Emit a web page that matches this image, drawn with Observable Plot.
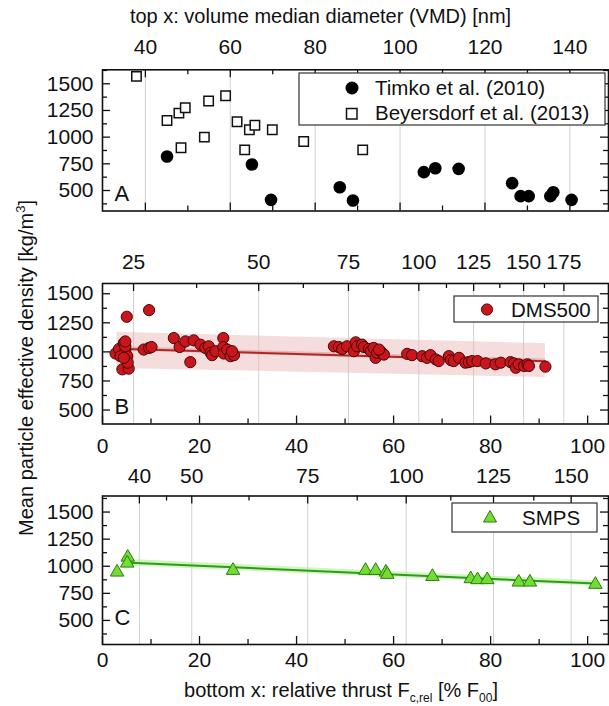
<!DOCTYPE html>
<html><head><meta charset="utf-8">
<script src="https://cdn.jsdelivr.net/npm/d3@7"></script>
<script src="https://cdn.jsdelivr.net/npm/@observablehq/plot@0.6"></script>
<style>
html,body{margin:0;padding:0;background:#fff;}
#fig{position:relative;width:609px;height:706px;overflow:hidden;background:#fff;font-family:"Liberation Sans",Arial,Helvetica,sans-serif;}
#fig svg{position:absolute;left:0;}
</style></head><body><div id="fig"></div>
<script>
// ---------- axis tick values ----------
const yMajor = [500, 750, 1000, 1250, 1500];
const yMinor = [375, 625, 875, 1125, 1375, 1625];
const thrustMajor = [0, 20, 40, 60, 80, 100];
const thrustMinor = [10, 30, 50, 70, 90];
const vmdMajorA = [40, 60, 80, 100, 120, 140];
const vmdMinorA = [50, 70, 90, 110, 130];
// top axis of panel B (VMD labels and the relative thrust where they sit)
const dmsVmdLabels = [25, 50, 75, 100, 125, 150, 175];
const dmsVmdAtThrust = [6.4, 32.2, 50.7, 65.2, 76.5, 86.8, 95.1];
const dmsVmdMinorAtThrust = [19.4, 41.4, 57.9, 70.9, 81.9, 91.1];
// top axis of panel C
const smpsVmdLabels = [40, 50, 75, 100, 125, 150];
const smpsVmdAtThrust = [7.6, 18.4, 42.3, 62.6, 80.6, 96.6];
const smpsVmdMinorAtThrust = [13.2, 30.2, 52.5, 71.8, 88.9];

// ---------- panel A data (x = VMD nm) ----------
const timkoVmd = [45.1, 65.1, 69.6, 85.8, 88.9, 105.6, 108.3, 113.8, 126.4, 128.4, 130.3, 135.4, 136.1, 140.4];
const timkoDensity = [819, 744, 412, 531, 406, 672, 709, 703, 569, 447, 447, 447, 484, 412];
const beyVmd = [37.9, 45.1, 47.9, 49.4, 48.4, 53.9, 54.9, 58.9, 61.6, 63.4, 64.5, 65.8, 69.9, 77.3, 91.2];
const beyDensity = [1569, 1156, 1225, 1275, 900, 1000, 1338, 1388, 1144, 881, 1069, 1112, 1069, 959, 881];

// ---------- panel B data (x = relative thrust %) ----------
const dmsThrust = [2.7, 3.4, 4.4, 4.7, 5.1, 4.1, 5.4, 4.7, 3.7, 5.2, 4.4, 5.0, 4.7, 9.6, 8.5, 9.6, 10.1,
  14.7, 15.9, 17.1, 18.1, 18.8, 20.2, 21.2, 21.9, 22.3, 22.6, 23.3, 24.9, 24.9, 25.0, 25.7, 26.4, 27.1, 26.7,
  47.7, 48.7, 49.4, 50.4, 51.8, 52.2, 52.5, 53.5, 53.9, 54.9, 55.3, 55.9, 56.3, 56.6, 57.3, 58.0, 57.0,
  62.8, 63.8, 65.9, 66.9, 67.6, 68.7, 69.3, 71.4, 71.8, 72.4, 73.5, 74.8, 75.5, 76.2, 77.3, 79.0, 81.0, 82.1,
  84.1, 84.8, 85.2, 85.8, 86.9, 87.6, 87.9, 91.3];
const dmsDensity = [986, 1025, 1076, 1006, 963, 850, 856, 1048, 963, 907, 949, 1302, 1090, 1359, 1020, 1034, 1042,
  1119, 1042, 1090, 912, 1099, 1062, 1034, 1048, 992, 972, 1006, 1119, 1042, 986, 1020, 963, 972, 1006,
  1048, 1042, 1025, 1048, 1006, 1082, 1048, 1062, 1042, 1025, 1006, 1034, 949, 992, 1006, 977, 1020,
  983, 972, 963, 949, 972, 935, 921, 963, 929, 921, 949, 907, 912, 921, 921, 901, 893, 907,
  912, 901, 864, 893, 879, 893, 879, 873];
// fit line and bands
const dmsFitThrust = [3.0, 91.3];
const dmsFit = [1028, 920];
const dmsConfLo = [1010, 902];
const dmsConfHi = [1046, 938];
const dmsPredLo = [858, 780];
const dmsPredHi = [1169, 1070];

// ---------- panel C data ----------
const smpsThrust = [3.0, 5.2, 5.1, 26.9, 54.2, 56.3, 58.4, 58.7, 68.0, 75.9, 77.3, 79.3, 85.8, 88.1, 101.6];
const smpsDensity = [945, 1083, 1028, 961, 961, 961, 945, 924, 905, 884, 875, 875, 853, 853, 832];
const smpsFitThrust = [4.5, 101.6];
const smpsFit = [1035, 840];
const smpsConfLo = [1005, 815];
const smpsConfHi = [1065, 865];

// ---------- drawing ----------
const fig = document.getElementById("fig");
const FONT = '"Liberation Sans", Arial, Helvetica, sans-serif';
const W = 609, ML = 102, MR = 1;
const INK = "#111";

function inDomain(vals, dom) {
  const a = Math.min(...dom), b = Math.max(...dom);
  return vals.filter(v => v >= a && v <= b);
}
function zip(xs, ys) { return xs.map((x, i) => ({x, y: ys[i]})); }

function panel(cfg) {
  const {top, height, marginTop, marginBottom, xDomain, yDomain} = cfg;
  const pw = W - ML - MR, ph = height - marginTop - marginBottom;
  const majY = inDomain(yMajor, yDomain), minY = inDomain(yMinor, yDomain);
  const tk = {stroke: INK, strokeWidth: 1.3};
  const txt = {fontSize: 21, fill: INK};
  const marks = [
    Plot.ruleX(cfg.grid, {x: d => d, stroke: "#d2d2d2", strokeWidth: 1}),
    ...cfg.dataMarks,
    Plot.tickY(majY, {y: d => d, insetRight: pw - 8, ...tk}),
    Plot.tickY(minY, {y: d => d, insetRight: pw - 5, ...tk}),
    Plot.tickY(majY, {y: d => d, insetLeft: pw - 8, ...tk}),
    Plot.tickY(minY, {y: d => d, insetLeft: pw - 5, ...tk}),
    Plot.tickX(cfg.topMajor, {x: d => d, insetBottom: ph - 8, ...tk}),
    Plot.tickX(cfg.topMinor, {x: d => d, insetBottom: ph - 5, ...tk}),
    Plot.tickX(cfg.bottomMajor, {x: d => d, insetTop: ph - 8, ...tk}),
    Plot.tickX(cfg.bottomMinor, {x: d => d, insetTop: ph - 5, ...tk}),
    Plot.frame({stroke: INK, strokeWidth: 1.6}),
    Plot.text(majY, {y: d => d, text: d => String(d), frameAnchor: "left", textAnchor: "end", dx: -9, lineAnchor: "middle", ...txt}),
    Plot.text(cfg.topLabels, {x: "x", text: "t", frameAnchor: "top", lineAnchor: "bottom", dy: cfg.topDy, ...txt}),
    Plot.text([cfg.letter], {text: d => d, y: cfg.letterY, frameAnchor: "left", textAnchor: "start", dx: 12, lineAnchor: "middle", fontSize: 22, fill: INK})
  ];
  if (cfg.bottomLabels) {
    marks.push(Plot.text(cfg.bottomLabels, {x: d => d, text: d => String(d), frameAnchor: "bottom", lineAnchor: "top", dy: cfg.bottomDy, ...txt}));
  }
  const svg = Plot.plot({
    width: W, height, marginLeft: ML, marginRight: MR, marginTop, marginBottom,
    x: {domain: xDomain, axis: null},
    y: {domain: yDomain, axis: null},
    style: {fontFamily: FONT, background: "transparent", overflow: "visible"},
    marks
  });
  svg.style.top = top + "px";
  fig.appendChild(svg);
}

// Panel A
panel({
  top: 25, height: 195, marginTop: 44.3, marginBottom: 9.5,
  xDomain: [29.9, 149.1], yDomain: [308, 1631],
  grid: vmdMajorA,
  topMajor: vmdMajorA, topMinor: vmdMinorA,
  bottomMajor: vmdMajorA, bottomMinor: vmdMinorA,
  topLabels: vmdMajorA.map(v => ({x: v, t: String(v)})), topDy: -16,
  letter: "A", letterY: 465,
  dataMarks: [
    Plot.dot(zip(beyVmd, beyDensity), {x: "x", y: "y", symbol: "square", r: 5.3, fill: "white", stroke: INK, strokeWidth: 1.5}),
    Plot.dot(zip(timkoVmd, timkoDensity), {x: "x", y: "y", symbol: "circle", r: 6.3, fill: "#000"})
  ]
});

// Panel B
const dmsFitRows = dmsFitThrust.map((t, i) => ({x: t, y: dmsFit[i], lo: dmsConfLo[i], hi: dmsConfHi[i], plo: dmsPredLo[i], phi: dmsPredHi[i]}));
panel({
  top: 240, height: 215, marginTop: 43, marginBottom: 31.5,
  xDomain: [0, 104.3], yDomain: [380, 1588],
  grid: dmsVmdAtThrust,
  topMajor: dmsVmdAtThrust, topMinor: dmsVmdMinorAtThrust,
  bottomMajor: thrustMajor, bottomMinor: thrustMinor,
  topLabels: dmsVmdLabels.map((v, i) => ({x: dmsVmdAtThrust[i], t: String(v)})), topDy: -14.7,
  bottomLabels: thrustMajor, bottomDy: 14,
  letter: "B", letterY: 525,
  dataMarks: [
    Plot.areaY(dmsFitRows, {x: "x", y1: "plo", y2: "phi", fill: "#e9b4b4", fillOpacity: 0.45}),
    Plot.areaY(dmsFitRows, {x: "x", y1: "lo", y2: "hi", fill: "#d98a8a", fillOpacity: 0.45}),
    Plot.line(dmsFitRows, {x: "x", y: "y", stroke: "#b02828", strokeWidth: 2}),
    Plot.dot(zip(dmsThrust, dmsDensity), {x: "x", y: "y", r: 5.6, fill: "#c8161c", stroke: "#4a0606", strokeWidth: 1})
  ]
});

// Panel C
const smpsFitRows = smpsFitThrust.map((t, i) => ({x: t, y: smpsFit[i], lo: smpsConfLo[i], hi: smpsConfHi[i]}));
panel({
  top: 455, height: 225, marginTop: 40.5, marginBottom: 36,
  xDomain: [0, 104.3], yDomain: [278, 1648],
  grid: smpsVmdAtThrust,
  topMajor: smpsVmdAtThrust, topMinor: smpsVmdMinorAtThrust,
  bottomMajor: thrustMajor, bottomMinor: thrustMinor,
  topLabels: smpsVmdLabels.map((v, i) => ({x: smpsVmdAtThrust[i], t: String(v)})), topDy: -13.5,
  bottomLabels: thrustMajor, bottomDy: 8,
  letter: "C", letterY: 525,
  dataMarks: [
    Plot.areaY(smpsFitRows, {x: "x", y1: "lo", y2: "hi", fill: "#a8ee86", fillOpacity: 0.55}),
    Plot.line(smpsFitRows, {x: "x", y: "y", stroke: "#2f9a1c", strokeWidth: 2}),
    Plot.dot(zip(smpsThrust, smpsDensity), {x: "x", y: "y", symbol: "triangle", r: 5, fill: "#72de33", stroke: "#2e7a10", strokeWidth: 1})
  ]
});

// overlay: titles and legends
const NS = "http://www.w3.org/2000/svg";
const ov = document.createElementNS(NS, "svg");
ov.setAttribute("width", W); ov.setAttribute("height", 706);
ov.style.top = "0px";
ov.style.fontFamily = FONT;
ov.innerHTML = `
<g fill="${INK}" font-size="20">
  <text x="320.5" y="23" text-anchor="middle">top x: volume median diameter (VMD) [nm]</text>
  <text transform="translate(33,368) rotate(-90)" text-anchor="middle">Mean particle effective density [kg/m<tspan font-size="13" dy="-8">3</tspan><tspan dy="8">]</tspan></text>
  <text x="341" y="697" text-anchor="middle">bottom x: relative thrust F<tspan font-size="12" dy="5">c,rel</tspan><tspan dy="-5"> [% F</tspan><tspan font-size="12" dy="5">00</tspan><tspan dy="-5">]</tspan></text>
</g>
<g>
  <rect x="299" y="73" width="306" height="52" fill="white" stroke="#333" stroke-width="1.2"/>
  <circle cx="352" cy="88" r="6.5" fill="#000"/>
  <text x="375" y="95" font-size="20.5" fill="${INK}">Timko et al. (2010)</text>
  <rect x="346.5" y="108.5" width="10.5" height="10.5" fill="white" stroke="${INK}" stroke-width="1.5"/>
  <text x="375" y="120" font-size="20.5" fill="${INK}">Beyersdorf et al. (2013)</text>

  <rect x="454" y="296" width="144" height="26" fill="white" stroke="#333" stroke-width="1.2"/>
  <circle cx="487" cy="309.5" r="5.6" fill="#c8161c" stroke="#4a0606" stroke-width="1"/>
  <text x="511" y="317" font-size="20.5" fill="${INK}">DMS500</text>

  <rect x="452" y="503" width="145" height="29" fill="white" stroke="#333" stroke-width="1.2"/>
  <polygon points="490,510.5 483.5,522 496.5,522" fill="#72de33" stroke="#2e7a10" stroke-width="1"/>
  <text x="522" y="525" font-size="20.5" fill="${INK}">SMPS</text>
</g>`;
fig.appendChild(ov);
</script></body></html>
